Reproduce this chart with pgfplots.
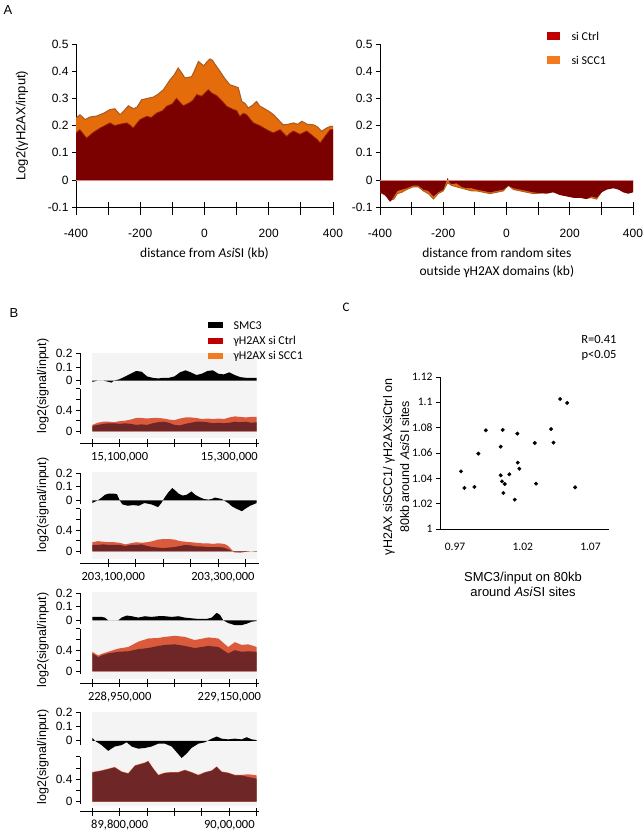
\documentclass[border=0pt]{standalone}
\usepackage{fontspec}
\setmainfont{Liberation Sans}
\newfontfamily\calf{Carlito}
\usepackage{pgfplots}
\usepackage{pgfplotstable}
\pgfplotsset{compat=1.18}
\definecolor{aorg}{HTML}{E46C0A}
\definecolor{aorgedge}{HTML}{A85A20}
\definecolor{adark}{HTML}{7B0000}
\definecolor{adarkedge}{HTML}{95200C}
\definecolor{pinkline}{HTML}{D88888}
\definecolor{legctrl}{HTML}{C00000}
\definecolor{legscc}{HTML}{F47A1F}
\definecolor{bscc}{HTML}{DC5A3C}
\definecolor{bctrl}{HTML}{6E2626}
\definecolor{bgray}{HTML}{F4F4F4}

\pgfplotstableread{
x y
-400 0.228
-387.5 0.240
-372 0.222
-356 0.232
-336 0.235
-315 0.245
-294 0.259
-279 0.262
-263 0.240
-250 0.255
-237 0.273
-221 0.262
-210 0.268
-196 0.295
-178 0.300
-159 0.305
-145 0.315
-128 0.332
-107 0.369
-95 0.385
-82 0.412
-70 0.392
-61 0.375
-40 0.380
-30 0.405
-19 0.436
-8 0.425
-2 0.420
8 0.435
17 0.445
25 0.440
33 0.425
48 0.400
62 0.375
79 0.350
92 0.345
105 0.340
116 0.289
126 0.282
136 0.265
150 0.275
162 0.289
172 0.272
183 0.265
204 0.250
215 0.240
225 0.228
235 0.215
245 0.203
260 0.205
277 0.210
290 0.205
303 0.216
320 0.205
339 0.203
352 0.195
365 0.179
378 0.190
391 0.197
400 0.197
}\AscA

\pgfplotstableread{
x y
-400 0.173
-388 0.185
-378 0.170
-367 0.154
-356 0.165
-346 0.175
-325 0.191
-310 0.200
-294 0.210
-280 0.200
-263 0.205
-242 0.210
-230 0.200
-222 0.191
-201 0.222
-180 0.234
-165 0.230
-149 0.246
-130 0.255
-118 0.271
-100 0.280
-87 0.300
-76 0.285
-66 0.273
-45 0.285
-35 0.295
-24 0.314
-9 0.308
0 0.318
12 0.332
22 0.320
38 0.310
55 0.290
69 0.271
90 0.259
100 0.255
110 0.234
121 0.245
131 0.240
152 0.210
172 0.200
194 0.185
214 0.173
235 0.185
246 0.172
256 0.160
266 0.172
277 0.180
297 0.168
318 0.180
329 0.170
339 0.160
350 0.150
360 0.136
375 0.160
391 0.185
400 0.185
}\ActA

\pgfplotstableread{
x ctrl scc
-400 -0.045 -0.045
-384 -0.055 -0.055
-368 -0.080 -0.075
-356 -0.060 -0.070
-345 -0.040 -0.050
-331 -0.035 -0.045
-316 -0.030 -0.035
-295 -0.020 -0.025
-279 -0.020 -0.025
-263 -0.035 -0.040
-247 -0.040 -0.050
-231 -0.060 -0.070
-216 -0.045 -0.050
-200 -0.035 -0.040
-186 0.008 -0.010
-180 -0.010 -0.015
-173 -0.015 -0.020
-158 -0.012 -0.025
-142 -0.025 -0.030
-126 -0.030 -0.035
-110 -0.030 -0.040
-94 -0.035 -0.040
-73 -0.040 -0.045
-52 -0.045 -0.050
-31 -0.040 -0.045
-10 -0.035 -0.040
6 -0.020 -0.020
22 -0.030 -0.035
43 -0.035 -0.040
64 -0.040 -0.045
85 -0.045 -0.050
106 -0.048 -0.048
127 -0.050 -0.045
148 -0.045 -0.042
169 -0.055 -0.052
190 -0.060 -0.057
211 -0.065 -0.062
232 -0.065 -0.062
253 -0.070 -0.067
269 -0.060 -0.065
285 -0.065 -0.070
301 -0.045 -0.042
317 -0.035 -0.032
338 -0.030 -0.027
354 -0.035 -0.032
369 -0.045 -0.042
385 -0.050 -0.047
400 -0.045 -0.042
}\AR

\pgfplotstableread{
t v
0 -0.01
10 0.0
20 0.0
30 -0.01
35 -0.015
40 0.0
50 0.01
60 0.03
70 0.05
80 0.07
90 0.065
100 0.03
110 0.02
120 0.015
130 0.02
140 0.02
150 0.03
160 0.06
170 0.075
180 0.06
190 0.04
200 0.05
210 0.07
220 0.075
230 0.05
240 0.045
250 0.06
260 0.04
270 0.025
280 0.02
290 0.02
300 0.02
}\BoneS

\pgfplotstableread{
t scc ctrl
0 0.12 0.10
10 0.16 0.12
20 0.18 0.14
30 0.18 0.15
40 0.17 0.15
50 0.19 0.14
60 0.20 0.15
70 0.22 0.14
80 0.25 0.12
90 0.25 0.13
100 0.24 0.12
110 0.25 0.15
120 0.25 0.17
130 0.24 0.18
140 0.22 0.16
150 0.21 0.12
160 0.24 0.11
170 0.26 0.14
180 0.26 0.16
190 0.25 0.18
200 0.23 0.18
210 0.24 0.17
220 0.23 0.15
230 0.24 0.16
240 0.23 0.15
250 0.26 0.16
260 0.28 0.18
270 0.27 0.17
280 0.26 0.18
290 0.27 0.16
300 0.27 0.17
}\BoneG

\pgfplotstableread{
t v
0 -0.02
5 -0.01
12 0.005
17 0.02
23 0.04
30 0.05
38 0.05
45 0.045
50 0.0
55 -0.03
65 -0.04
75 -0.035
85 -0.04
95 -0.02
108 -0.03
120 -0.05
126 -0.02
132 0.02
139 0.06
146 0.09
152 0.07
157 0.05
165 0.035
172 0.04
181 0.065
188 0.04
195 0.025
203 0.01
212 0.005
218 0.01
224 0.02
236 0.01
248 -0.02
255 -0.045
262 -0.06
273 -0.08
280 -0.06
288 -0.04
300 -0.02
}\BtwoS

\pgfplotstableread{
t scc ctrl
0 0.17 0.12
10 0.19 0.12
20 0.18 0.13
30 0.17 0.12
40 0.17 0.12
50 0.16 0.12
60 0.13 0.10
70 0.15 0.12
80 0.17 0.12
90 0.16 0.13
100 0.17 0.10
110 0.19 0.08
120 0.22 0.07
130 0.23 0.06
140 0.23 0.07
150 0.22 0.08
160 0.19 0.10
170 0.18 0.12
180 0.17 0.11
190 0.16 0.09
200 0.15 0.09
210 0.15 0.08
220 0.14 0.08
230 0.15 0.08
240 0.14 0.07
245 0.12 0.05
250 0.08 0.03
255 0.02 0.0
260 -0.01 -0.02
270 -0.02 -0.02
280 -0.01 -0.01
290 0.0 0.0
300 -0.005 -0.01
}\BtwoG

\pgfplotstableread{
t v
0 0.025
17 0.025
23 0.02
29 0.0
47.5 0.0
53.5 0.02
62.7 0.035
72 0.03
84 0.02
96 0.03
108 0.025
120.5 0.03
132.6 0.03
145 0.025
157 0.03
169 0.02
181 0.015
193.5 0.01
208.7 0.01
218 0.02
227 0.055
233 0.04
239 0.0
248 -0.02
260 -0.035
272.6 -0.035
281.7 -0.025
290.9 -0.01
300 -0.005
}\BthreeS

\pgfplotstableread{
t scc ctrl
0 0.37 0.34
11 0.30 0.27
17 0.33 0.30
29 0.37 0.34
47.5 0.43 0.37
65.7 0.46 0.38
84 0.56 0.42
102 0.62 0.44
120.5 0.63 0.48
132.6 0.65 0.50
151 0.67 0.51
169 0.65 0.48
187 0.59 0.44
212 0.64 0.48
230 0.62 0.46
248 0.46 0.34
260 0.55 0.40
272.6 0.50 0.37
284.8 0.51 0.38
300 0.46 0.37
}\BthreeG

\pgfplotstableread{
t v
0 0.02
5 0.0
17 -0.03
29 -0.07
41 -0.04
53.5 -0.03
62.7 -0.01
72 -0.04
84 -0.055
96 -0.05
108 -0.04
120.5 -0.02
132.6 -0.02
145 -0.04
154 -0.08
163 -0.12
172 -0.09
181 -0.05
193.5 -0.02
205.7 -0.01
218 0.015
227 0.03
236 0.015
248 0.01
260 0.015
272.6 0.01
281.7 0.025
290.9 0.01
300 0.005
}\BfourS

\pgfplotstableread{
t scc ctrl
0 0.53 0.52
17 0.56 0.55
29 0.59 0.58
41 0.62 0.61
53.5 0.54 0.53
65.7 0.51 0.50
78 0.65 0.64
96 0.70 0.69
102 0.73 0.72
111 0.60 0.59
120.5 0.48 0.47
132.6 0.52 0.51
145 0.53 0.52
157 0.53 0.52
169 0.57 0.56
181 0.53 0.52
193.5 0.48 0.47
205.7 0.53 0.52
218 0.56 0.55
227 0.63 0.62
236 0.54 0.53
248 0.52 0.51
260 0.48 0.47
272.6 0.48 0.47
284.8 0.49 0.44
300 0.47 0.41
}\BfourG

\pgfplotstableread{
x y
0.9744 1.0455
0.9769 1.0324
0.9843 1.0332
0.9872 1.0595
0.9927 1.0779
1.0037 1.0650
1.0052 1.0782
1.0037 1.0424
1.0047 1.0376
1.0067 1.0355
1.0057 1.0284
1.0101 1.0432
1.0141 1.0232
1.0160 1.0753
1.0163 1.0524
1.0175 1.0476
1.0289 1.0679
1.0298 1.0358
1.0409 1.0789
1.0427 1.0682
1.0476 1.1026
1.0528 1.0995
1.0587 1.0329
}\Cdata

\pgfplotsset{
  common/.style={anchor=south west, scale only axis,
    tick style={black, line width=0.8pt}, axis line style={black, line width=0.8pt}},
  apanel/.style={common, width=257pt, height=163.3pt, xmin=-400, xmax=400, ymin=-0.1, ymax=0.5},
  adata/.style={apanel, axis y line*=left, axis x line*=bottom, xtick=\empty,
    ytick={-0.1,0,0.1,0.2,0.3,0.4,0.5}, yticklabels={-0.1,0,0.1,0.2,0.3,0.4,0.5},
    tick align=outside, major tick length=4pt,
    y tick label style={font=\fontsize{12}{14}\selectfont}},
  aticks/.style={apanel, hide y axis, axis x line*=bottom,
    xtick={-400,-300,...,400}, xticklabels={-400,,-200,,0,,200,,400},
    tick align=center, major tick length=13pt, major x tick style={yshift=-1.5pt},
    x tick label style={font=\fontsize{12}{14}\selectfont, anchor=center, yshift=-20pt},
    xlabel style={font=\calf\fontsize{13.5}{18}\selectfont, align=center, anchor=center}},
  btrack/.style={common, width=179pt, xmin=-22.4, xmax=304.2, hide x axis, axis y line*=left,
    tick align=outside, major tick length=4pt,
    y tick label style={font=\fontsize{12}{14}\selectfont}},
  bsmc/.style={btrack, ymin=-0.03, ymax=0.2, ytick={0,0.1,0.2}, yticklabels={0,0.1,0.2}, clip=false},
  bgam/.style={btrack, ymin=-0.05, ymax=0.8, ytick={0,0.2,0.4,0.6,0.8}, yticklabels={0,,0.4,,}},
  bx/.style={common, width=179pt, height=10pt, xmin=-22.4, xmax=304.2, ymin=0, ymax=1,
    hide y axis, axis x line*=bottom, tick align=center, major tick length=8pt,
    x tick label style={font=\calf\fontsize{12.5}{14}\selectfont, anchor=center, yshift=-10pt}},
}

\begin{document}
\begin{tikzpicture}
\useasboundingbox (0pt,0pt) rectangle (643pt,834pt);

% ---------------- Panel A ----------------
\node[font=\fontsize{13}{14}\selectfont] at (8pt,824pt) {A};

\begin{axis}[adata, at={(76pt,626.7pt)},
  ylabel={Log2(γH2AX/input)},
  ylabel style={font=\fontsize{13}{14}\selectfont, at={(axis description cs:-0.21,0.5)}, anchor=center}]
\addplot[draw=none, fill=aorg] table[x=x,y=y] {\AscA} \closedcycle;
\addplot[draw=aorgedge, line width=1pt] table[x=x,y=y] {\AscA};
\addplot[draw=none, fill=adark] table[x=x,y=y] {\ActA} \closedcycle;
\addplot[draw=adarkedge, line width=0.8pt] table[x=x,y=y] {\ActA};
\addplot[draw=pinkline, line width=0.6pt] coordinates {(-400,0) (400,0)};
\end{axis}
\begin{axis}[aticks, at={(76pt,626.7pt)},
  xlabel={distance from \textit{Asi}SI (kb)},
  xlabel style={at={(axis description cs:0.5,-0.286)}}]
\end{axis}

\begin{axis}[adata, at={(380pt,626.7pt)}, width=253pt]
\addplot[draw=none, fill=aorg] table[x=x,y=scc] {\AR} \closedcycle;
\addplot[draw=aorgedge, line width=0.8pt] table[x=x,y=scc] {\AR};
\addplot[draw=none, fill=adark] table[x=x,y=ctrl] {\AR} \closedcycle;
\addplot[draw=pinkline, line width=0.6pt] coordinates {(-400,0) (400,0)};
\end{axis}
\begin{axis}[aticks, at={(380pt,626.7pt)}, width=253pt,
  xlabel={distance from random sites\\outside γH2AX domains (kb)},
  xlabel style={at={(axis description cs:0.462,-0.341)}}]
\end{axis}

% legend A
\fill[legctrl] (547pt,794pt) rectangle (560pt,802pt);
\node[anchor=west, font=\calf\fontsize{12}{14}\selectfont] at (568pt,798pt) {si Ctrl};
\fill[legscc] (547pt,770pt) rectangle (560pt,778pt);
\node[anchor=west, font=\calf\fontsize{12}{14}\selectfont] at (568pt,774pt) {si SCC1};

% ---------------- Panel B ----------------
\node[font=\fontsize{13}{14}\selectfont] at (14pt,521pt) {B};

\fill[bgray] (92pt,396pt) rectangle (257pt,481pt);
\fill[bgray] (92pt,275pt) rectangle (257pt,362pt);
\fill[bgray] (92pt,155pt) rectangle (257pt,242pt);
\fill[bgray] (92pt,28pt) rectangle (257pt,122pt);

\fill[black] (208pt,505.5pt) rectangle (223pt,511.5pt);
\node[anchor=west, font=\calf\fontsize{12}{14}\selectfont] at (230pt,508.5pt) {SMC3};
\fill[legctrl] (208pt,490pt) rectangle (223pt,496pt);
\node[anchor=west, font=\calf\fontsize{12}{14}\selectfont] at (230pt,493pt) {γH2AX si Ctrl};
\fill[legscc] (208pt,474.5pt) rectangle (223pt,480.5pt);
\node[anchor=west, font=\calf\fontsize{12}{14}\selectfont] at (230pt,477.5pt) {γH2AX si SCC1};

\foreach \yy in {448,329,194,77} {
  \node[rotate=90, font=\fontsize{12.5}{14}\selectfont] at (43pt,\yy pt) {log2(signal/input)};
}

% block 1
\begin{axis}[bsmc, at={(80pt,449.4pt)}, height=31.28pt]
\addplot[draw=none, fill=black] table[x=t,y=v] {\BoneS} \closedcycle;
\end{axis}
\begin{axis}[bgam, at={(80pt,400.04pt)}, height=45.26pt]
\addplot[draw=none, fill=bscc] table[x=t,y=scc] {\BoneG} \closedcycle;
\addplot[draw=none, fill=bctrl] table[x=t,y=ctrl] {\BoneG} \closedcycle;
\end{axis}
\begin{axis}[bx, at={(80pt,390.5pt)}, xtick={0,50,...,300},
  xticklabels={,{15,100,000},,,,{15,300,000},}]
\end{axis}

% block 2
\begin{axis}[bsmc, at={(80pt,329.6pt)}, height=31.28pt]
\addplot[draw=none, fill=black] table[x=t,y=v] {\BtwoS} \closedcycle;
\end{axis}
\begin{axis}[bgam, at={(80pt,280.04pt)}, height=45.26pt]
\addplot[draw=none, fill=bscc] table[x=t,y=scc] {\BtwoG} \closedcycle;
\addplot[draw=none, fill=bctrl] table[x=t,y=ctrl] {\BtwoG} \closedcycle;
\end{axis}
\begin{axis}[bx, at={(80pt,270.5pt)}, xtick={29.2,79.2,129.2,179.2,229.2,279.2},
  xticklabels={{203,100,000},,,,{203,300,000},},
  x tick label style={xshift=5pt}]
\end{axis}

% block 3
\begin{axis}[bsmc, at={(80pt,209.6pt)}, height=31.28pt]
\addplot[draw=none, fill=black] table[x=t,y=v] {\BthreeS} \closedcycle;
\end{axis}
\begin{axis}[bgam, at={(80pt,159.84pt)}, height=45.26pt]
\addplot[draw=none, fill=bscc] table[x=t,y=scc] {\BthreeG} \closedcycle;
\addplot[draw=none, fill=bctrl] table[x=t,y=ctrl] {\BthreeG} \closedcycle;
\end{axis}
\begin{axis}[bx, at={(80pt,150.5pt)}, xtick={0,50,...,300},
  xticklabels={,{228,950,000},,,,{229,150,000},}]
\end{axis}

% block 4
\begin{axis}[bsmc, at={(80pt,88.9pt)}, height=32.9pt]
\addplot[draw=none, fill=black] table[x=t,y=v] {\BfourS} \closedcycle;
\end{axis}
\begin{axis}[bgam, at={(80pt,29.5pt)}, height=47.6pt]
\addplot[draw=none, fill=bscc] table[x=t,y=scc] {\BfourG} \closedcycle;
\addplot[draw=none, fill=bctrl] table[x=t,y=ctrl] {\BfourG} \closedcycle;
\end{axis}
\begin{axis}[bx, at={(80pt,22.5pt)}, xtick={0,50,...,300},
  xticklabels={,{89,800,000},,,,{90,00,000},}]
\end{axis}

% ---------------- Panel C ----------------
\node[font=\calf\fontsize{13}{14}\selectfont] at (346pt,527pt) {C};
\node[anchor=east, font=\calf\fontsize{12.5}{14}\selectfont] at (620pt,494pt) {R=0.41};
\node[anchor=east, font=\calf\fontsize{12.5}{14}\selectfont] at (620pt,479pt) {p<0.05};

\begin{axis}[common, at={(440pt,305pt)}, width=169pt, height=152pt,
  xmin=0.9589, xmax=1.0837, ymin=1, ymax=1.12,
  axis x line*=bottom, axis y line*=left,
  xtick={0.97,1.02,1.07}, xticklabels={0.97,1.02,1.07},
  major x tick style={draw=none},
  ytick={1,1.02,1.04,1.06,1.08,1.1,1.12}, yticklabels={1,1.02,1.04,1.06,1.08,1.1,1.12},
  tick align=outside, major tick length=4pt,
  tick label style={font=\calf\fontsize{11.5}{13}\selectfont},
  x tick label style={anchor=center, yshift=-14pt},
  xlabel={SMC3/input on 80kb\\around \textit{Asi}SI sites},
  xlabel style={font=\fontsize{13}{15}\selectfont, align=center, anchor=center, at={(axis description cs:0.491,-0.365)}},
  ylabel={γH2AX siSCC1/ γH2AXsiCtrl on\\80kb around \textit{Asi}SI sites},
  ylabel style={font=\fontsize{12.5}{17}\selectfont, align=center, anchor=center, at={(axis description cs:-0.26,0.408)}}]
\addplot[only marks, mark=*, mark size=1.8pt, black] table[x=x,y=y] {\Cdata};
\end{axis}
\end{tikzpicture}
\end{document}
